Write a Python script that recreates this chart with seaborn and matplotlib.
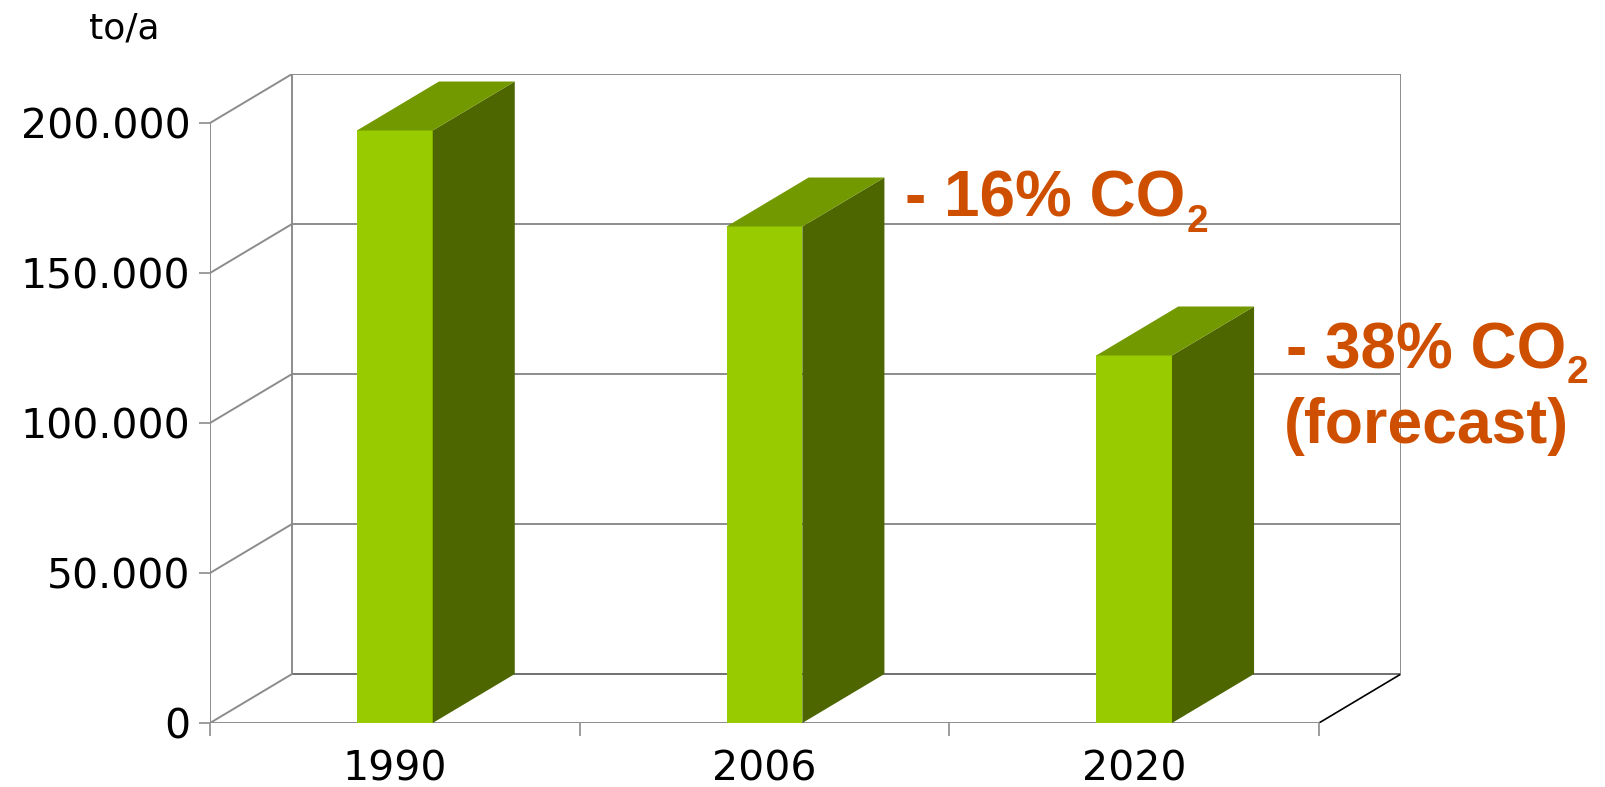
import matplotlib
matplotlib.use('Agg')
import matplotlib.pyplot as plt
import seaborn as sns
from matplotlib.patches import Polygon

years = ['1990', '2006', '2020']
emissions = [197500, 165500, 122500]
y_ticks = [0, 50000, 100000, 150000, 200000]
y_tick_labels = ['0', '50.000', '100.000', '150.000', '200.000']
unit_label = 'to/a'
notes = ['- 16% CO', '- 38% CO', '(forecast)']

front_color = '#99CC00'
side_color = '#4D6600'
top_color = '#739900'
note_color = '#CF4F00'
wall_color = '#8C8C8C'

sns.set_style('white')
plt.rcParams['font.family'] = ['DejaVu Sans']
plt.rcParams['text.color'] = 'black'
plt.rcParams['xtick.labelcolor'] = 'black'
plt.rcParams['ytick.labelcolor'] = 'black'

# depth of the fake 3d box, in data units
dx = 0.222
dy = 16333

fig = plt.figure(figsize=(16.06, 7.87), dpi=100)
ax = fig.add_axes([210 / 1606, 64 / 787, 1191 / 1606, 649 / 787])

sns.barplot(x=years, y=emissions, color=front_color, saturation=1, width=0.205,
            linewidth=0, ax=ax, zorder=3)

ax.set_xlim(-0.5, 2.5 + dx)
ax.set_ylim(0, y_ticks[-1] + dy)

# back wall + floor + left wall
x0, x1 = -0.5, 2.5
lw = 1.4
for t in y_ticks[1:]:
    ax.plot([x0 + dx, x1 + dx], [t + dy, t + dy], color=wall_color, lw=lw, zorder=1)
    ax.plot([x0, x0 + dx], [t, t + dy], color=wall_color, lw=lw, zorder=1)
ax.plot([x0 + dx, x1 + dx], [dy, dy], color='#707070', lw=lw, zorder=1)
ax.plot([x0, x0 + dx], [0, dy], color=wall_color, lw=lw, zorder=1)
ax.plot([x1, x1 + dx], [0, dy], color='black', lw=1.2, zorder=1)
ax.plot([x0 + dx, x0 + dx], [dy, y_ticks[-1] + dy], color=wall_color, lw=lw, zorder=1)
ax.plot([x1 + dx, x1 + dx], [dy, y_ticks[-1] + dy], color=wall_color, lw=lw, zorder=1)
ax.plot([x0, x0], [0, y_ticks[-1]], color=wall_color, lw=lw, zorder=2)
ax.plot([x0, x1], [0, 0], color=wall_color, lw=lw, zorder=2)

# side and top faces for each bar
for bar in list(ax.patches):
    bx = bar.get_x()
    bw = bar.get_width()
    bh = bar.get_height()
    r = bx + bw
    side = Polygon([(r, 0), (r + dx, dy), (r + dx, bh + dy), (r, bh)],
                   closed=True, facecolor=side_color, edgecolor='none', zorder=3)
    top = Polygon([(bx, bh), (bx + dx, bh + dy), (r + dx, bh + dy), (r, bh)],
                  closed=True, facecolor=top_color, edgecolor='none', zorder=3)
    ax.add_patch(side)
    ax.add_patch(top)

for s in ax.spines.values():
    s.set_visible(False)

ax.set_yticks(y_ticks)
ax.set_yticklabels(y_tick_labels, fontsize=29.5)
ax.tick_params(axis='y', length=8, width=1.2, color=wall_color, pad=6, left=True)

ax.set_xticks([0, 1, 2])
ax.set_xticklabels(years, fontsize=29.5)
ax.set_xticks([-0.5, 0.5, 1.5, 2.5], minor=True)
ax.tick_params(axis='x', which='major', length=0, pad=19)
ax.tick_params(axis='x', which='minor', length=9, width=1.2, color=wall_color, bottom=True)
ax.set_xlabel('')
ax.set_ylabel('')

fig.text(124 / 1606, 1 - 28 / 787, unit_label, fontsize=26, ha='center', va='center')

note_kw = dict(color=note_color, fontweight='bold', family='Liberation Sans',
               ha='left', va='baseline', clip_on=False)
t1 = ax.text(1.381, 168667, notes[0], fontsize=46, **note_kw)
t2 = ax.text(2.410, 118333, notes[1], fontsize=46, **note_kw)
ax.text(2.406, 93333, notes[2], fontsize=45, **note_kw)

# subscript 2 placed right after "CO", a bit below the baseline
fig.canvas.draw()
for t in (t1, t2):
    bb = t.get_window_extent()
    bx, by = t.get_position()
    base_px = ax.transData.transform((bx, by))[1]
    sx, sy = ax.transData.inverted().transform((bb.x1 + 1, base_px - 15))
    ax.text(sx, sy, '2', fontsize=28, **note_kw)

fig.savefig('out.png', dpi=100)
